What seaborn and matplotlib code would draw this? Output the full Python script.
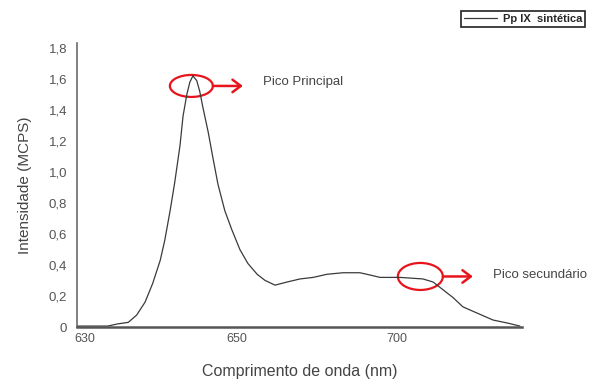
import numpy as np
import pandas as pd
import matplotlib
matplotlib.use("Agg")
import matplotlib.pyplot as plt
import seaborn as sns
from matplotlib.patches import Ellipse
from matplotlib.transforms import ScaledTranslation, offset_copy

# Emission spectrum of synthetic PpIX
wavelength = [628.95, 633.0, 634.3, 635.7, 636.8, 637.9, 638.9, 639.9, 640.5, 641.2,
              641.8, 642.5, 642.9, 643.4, 643.8, 644.2, 644.7, 645.1, 645.5, 646.2,
              646.8, 647.5, 648.4, 649.3, 650.9, 653.4, 656.3, 658.8, 661.9, 665.6,
              669.7, 673.8, 678.1, 683.1, 688.4, 690.6, 694.7, 700.9, 708.1, 711.3,
              714.4, 717.5, 720.6, 725.0, 730.0, 734.4, 738.4]
intensity = [0.006, 0.006, 0.02, 0.03, 0.077, 0.16, 0.28, 0.43, 0.56, 0.75,
             0.93, 1.17, 1.36, 1.50, 1.58, 1.62, 1.59, 1.52, 1.42, 1.26,
             1.10, 0.92, 0.75, 0.63, 0.50, 0.41, 0.34, 0.30, 0.27, 0.29,
             0.31, 0.32, 0.34, 0.35, 0.35, 0.34, 0.32, 0.32, 0.31, 0.29,
             0.24, 0.19, 0.13, 0.09, 0.045, 0.026, 0.006]

x_ticks = [630, 650, 700]
y_ticks = [0, 0.2, 0.4, 0.6, 0.8, 1.0, 1.2, 1.4, 1.6, 1.8]
y_tick_labels = ["0", "0,2", "0,4", "0,6", "0,8", "1,0", "1,2", "1,4", "1,6", "1,8"]

series_name = "Pp IX  sintética"
main_peak = (644.0, 1.555)
second_peak = (707.3, 0.326)

df = pd.DataFrame({"Comprimento de onda (nm)": wavelength,
                   "Intensidade (MCPS)": intensity})

sns.set_style("white")
plt.rcParams["font.family"] = ["Liberation Sans", "DejaVu Sans"]

fig = plt.figure(figsize=(5.97, 3.80), dpi=100)
ax = fig.add_axes([77 / 597, 1 - 327 / 380, 445 / 597, 284 / 380])

# the wavelength axis is stretched unevenly between its labelled ticks
nm_knots = [600, 630, 650, 700, 760]
px_knots = [-143, 85, 237, 397, 589]


def fwd(v):
    return np.interp(v, nm_knots, px_knots)


def inv(p):
    return np.interp(p, px_knots, nm_knots)


ax.set_xscale("function", functions=(fwd, inv))

sns.lineplot(data=df, x="Comprimento de onda (nm)", y="Intensidade (MCPS)",
             ax=ax, color="#3a3a3a", linewidth=0.9, label=series_name)

ax.set_xlim(628.95, 739.06)
ax.set_ylim(0, 1.832)
ax.set_xticks(x_ticks)
ax.set_xticklabels([str(t) for t in x_ticks])
ax.set_yticks(y_ticks)
ax.set_yticklabels(y_tick_labels)
ax.tick_params(axis="both", length=0, colors="#555555")
ax.tick_params(axis="y", pad=7, labelsize=9.5)
ax.tick_params(axis="x", pad=4, labelsize=9)

for side in ("top", "right"):
    ax.spines[side].set_visible(False)
ax.spines["left"].set_color("#6a6a6a")
ax.spines["left"].set_linewidth(1.2)
ax.spines["bottom"].set_color("#555555")
ax.spines["bottom"].set_linewidth(1.8)

ax.set_xlabel("Comprimento de onda (nm)", fontsize=11.5, color="#444444", labelpad=14)
ax.set_ylabel("Intensidade (MCPS)", fontsize=11, color="#444444", labelpad=12)


def mark_peak(center, w_px, h_px, text, text_dy):
    tr = fig.dpi_scale_trans + ScaledTranslation(center[0], center[1], ax.transData)
    ax.add_patch(Ellipse((0, 0), w_px / 100, h_px / 100, transform=tr,
                         fill=False, edgecolor="#e8141c", linewidth=1.6, clip_on=False))
    tip = offset_copy(ax.transData, fig=fig, x=w_px / 2 + 30, y=0, units="dots")
    ax.annotate("", xy=center, xycoords=tip,
                xytext=(-30, 0), textcoords="offset pixels",
                arrowprops=dict(arrowstyle="->,head_length=0.6,head_width=0.45",
                                color="#e8141c", lw=1.8, shrinkA=0, shrinkB=0))
    ax.annotate(text, xy=center, xycoords="data",
                xytext=(w_px / 2 + 50, text_dy), textcoords="offset pixels",
                ha="left", va="center", fontsize=9.5, color="#444444")


mark_peak(main_peak, 43, 22, "Pico Principal", 4)
mark_peak(second_peak, 45, 27, "Pico secundário", 1.5)

ax.legend_.remove()
handles, labels = ax.get_legend_handles_labels()
leg = fig.legend(handles, labels, loc="upper right",
                 bbox_to_anchor=(585 / 597, 1 - 11 / 380), borderaxespad=0,
                 fancybox=False, edgecolor="#222222", framealpha=1,
                 handlelength=3.0, handletextpad=0.5, borderpad=0.25,
                 prop={"size": 8, "weight": "bold"})
leg.get_frame().set_linewidth(1.2)

fig.savefig("out.png", dpi=100, facecolor="white")
